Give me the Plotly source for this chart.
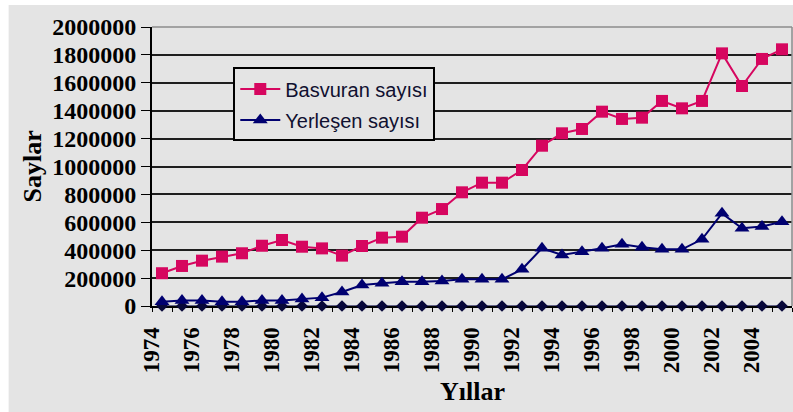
"""Basvuran / Yerlesen sayilari, 1974-2005 (Excel style line chart)."""

import plotly.graph_objects as go

# ── Data ───────────────────────────────────────────────────────────────────
YEARS = list(range(1974, 2006))

BASVURAN = [
    235000, 287000, 325000, 354000, 378000, 432000, 473000, 425000,
    413000, 361000, 430000, 490000, 497000, 633000, 695000, 815000,
    884000, 884000, 975000, 1149000, 1238000, 1269000, 1393000, 1341000,
    1350000, 1470000, 1417000, 1470000, 1811000, 1577000, 1771000, 1840000,
]
YERLESEN = [
    30000, 40000, 40000, 30000, 30000, 40000, 40000, 50000,
    60000, 100000, 150000, 163000, 174000, 174000, 179000, 191000,
    191000, 191000, 263000, 414000, 366000, 389000, 414000, 442000,
    421000, 406000, 406000, 478000, 664000, 557000, 569000, 604000,
]
BASE = [0] * len(YEARS)

TICK_YEARS = YEARS[::2]
Y_TICKS = list(range(0, 2000001, 200000))

# ── Style ──────────────────────────────────────────────────────────────────
PINK = "#D6065F"
NAVY = "#000070"
DIAMOND = "#08083A"
BG = "#E4E4E4"
FRAME = "#8C8C8C"
SERIF = "Liberation Serif"
SANS = "Liberation Sans"

fig = go.Figure()

fig.add_trace(
    go.Scatter(
        x=YEARS, y=BASE, mode="lines+markers", showlegend=False,
        line={"color": "#3A3A6A", "width": 1.5},
        marker={"symbol": "diamond", "size": 9, "color": DIAMOND},
        cliponaxis=False,
    )
)
fig.add_trace(
    go.Scatter(
        x=YEARS, y=YERLESEN, mode="lines+markers", name="Yerleşen sayısı",
        legendgroup="b", legendrank=2,
        line={"color": NAVY, "width": 2},
        marker={"symbol": "triangle-up", "size": 13, "color": NAVY},
        cliponaxis=False,
    )
)
fig.add_trace(
    go.Scatter(
        x=YEARS, y=BASVURAN, mode="lines+markers", name="Basvuran sayısı",
        legendgroup="a", legendrank=1,
        line={"color": PINK, "width": 2},
        marker={"symbol": "square", "size": 12, "color": PINK},
        cliponaxis=False,
    )
)

fig.update_layout(
    width=793,
    height=412,
    paper_bgcolor="white",
    plot_bgcolor=BG,
    margin={"l": 152, "r": 1, "t": 27, "b": 106},
    showlegend=True,
    legend={
        "x": 0.127, "y": 0.855, "xanchor": "left", "yanchor": "top",
        "bgcolor": BG, "bordercolor": "black", "borderwidth": 2,
        "font": {"family": SANS, "size": 20, "color": "#101030"},
        "traceorder": "grouped", "tracegroupgap": 2,
        "itemwidth": 40,
    },
    xaxis={
        "range": [YEARS[0] - 0.5, YEARS[-1] + 0.5],
        "tickvals": [y - 0.5 for y in TICK_YEARS],
        "ticktext": [str(y) for y in TICK_YEARS],
        "tickangle": -90,
        "ticks": "outside", "ticklen": 4, "tickcolor": "black",
        "minor": {"dtick": 1, "tick0": 0.5, "ticks": "outside",
                  "ticklen": 4, "tickcolor": "black"},
        "tickfont": {"family": SERIF, "size": 23, "color": "black",
                     "weight": "bold"},
        "ticklabelstandoff": 6,
        "showgrid": False, "zeroline": False,
        "showline": True, "linecolor": "black", "linewidth": 2,
        "layer": "below traces",
    },
    yaxis={
        "range": [0, 2000000],
        "tickvals": Y_TICKS,
        "tickformat": "d",
        "ticks": "outside", "ticklen": 9, "tickcolor": "black",
        "tickfont": {"family": SERIF, "size": 24, "color": "black",
                     "weight": "bold"},
        "showgrid": True, "gridcolor": "#1E1E1E", "gridwidth": 1.6,
        "zeroline": False,
        "showline": True, "linecolor": "black", "linewidth": 2,
        "layer": "below traces",
    },
    shapes=[
        # gray chart area behind everything
        {"type": "rect", "xref": "paper", "yref": "paper", "layer": "below",
         "x0": -0.224, "x1": 1.01, "y0": -0.38, "y1": 1.079,
         "fillcolor": BG, "line": {"width": 0}},
        # plot-area frame, top and right sides only
        {"type": "line", "xref": "paper", "yref": "paper", "layer": "above",
         "x0": 0, "x1": 1, "y0": 1, "y1": 1,
         "line": {"color": FRAME, "width": 1.5}},
        {"type": "line", "xref": "paper", "yref": "paper", "layer": "above",
         "x0": 1, "x1": 1, "y0": 0, "y1": 1,
         "line": {"color": FRAME, "width": 1.5}},
    ],
    annotations=[
        {"text": "<b>Saylar</b>", "xref": "paper", "yref": "paper",
         "x": -0.186, "y": 0.5, "xanchor": "center", "yanchor": "middle",
         "textangle": -90, "showarrow": False,
         "font": {"family": SERIF, "size": 26, "color": "black"}},
        {"text": "<b>Yıllar</b>", "xref": "paper", "yref": "paper",
         "x": 0.5, "y": -0.308, "xanchor": "center", "yanchor": "middle",
         "showarrow": False,
         "font": {"family": SERIF, "size": 26, "color": "black"}},
    ],
)

# the page's default 8px body margin would shift the chart; drop it
fig.write_html(
    "out.html",
    config={"displayModeBar": False},
    post_script="document.body.style.margin='0';",
)
